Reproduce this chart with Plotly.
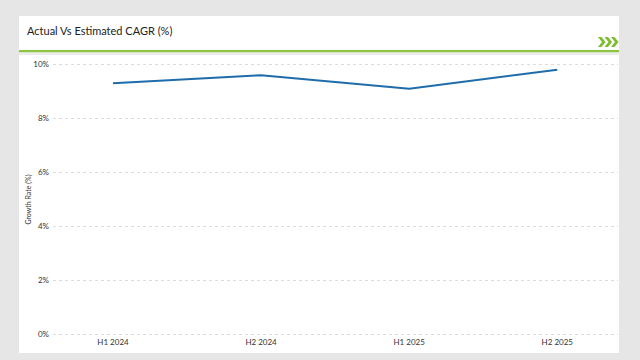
import plotly.graph_objects as go

periods = ["H1 2024", "H2 2024", "H1 2025", "H2 2025"]
growth_rate = [9.3, 9.6, 9.1, 9.8]

W, H = 640, 360
L, R, T, B = 53, 618, 63, 336


def px(x):
    return (x - L) / (R - L)


def py(y):
    return (B - y) / (B - T)


fig = go.Figure()
fig.add_trace(go.Scatter(
    x=periods, y=growth_rate, mode="lines",
    line=dict(color="#1f6cab", width=2),
    hoverinfo="skip", showlegend=False,
))

shapes = [
    # white card
    dict(type="rect", xref="paper", yref="paper", x0=px(19), x1=px(619), y0=py(353), y1=py(16),
         fillcolor="white", line=dict(width=0), layer="below"),
    # green rule under title
    dict(type="rect", xref="paper", yref="paper", x0=px(19), x1=px(619), y0=py(52.5), y1=py(50),
         fillcolor="#8cc43f", line=dict(width=0), layer="below"),
    # light separator strip under green rule
    dict(type="rect", xref="paper", yref="paper", x0=px(19), x1=px(619), y0=py(55), y1=py(52.5),
         fillcolor="#ececec", line=dict(width=0), layer="below"),
]
# chevrons
for i in range(3):
    x0 = 598 + i * 6.5
    pts = [(x0, 37), (x0 + 3.5, 37), (x0 + 7.5, 42), (x0 + 3.5, 47), (x0, 47), (x0 + 4, 42)]
    path = "M " + " L ".join(f"{px(a)},{py(b)}" for a, b in pts) + " Z"
    shapes.append(dict(type="path", xref="paper", yref="paper", path=path,
                       fillcolor="#7dbb2f", line=dict(width=0), layer="above"))

fig.update_layout(
    width=W, height=H,
    margin=dict(l=L, r=W - R, t=T, b=H - B, pad=0),
    paper_bgcolor="#e6e6e6",
    plot_bgcolor="rgba(0,0,0,0)",
    font=dict(family="Lato, Open Sans, sans-serif", color="#333333"),
    shapes=shapes,
    annotations=[
        dict(text="Actual Vs Estimated CAGR (%)", xref="paper", yref="paper",
             x=px(25), y=py(31), xanchor="left", yanchor="middle", showarrow=False,
             font=dict(size=11, color="#222222")),
    ],
    xaxis=dict(
        type="category", range=[-0.405, 3.41], showgrid=False, zeroline=False,
        showline=False, ticks="", tickfont=dict(size=8, color="#333333"),
        fixedrange=True,
    ),
    yaxis=dict(
        range=[-0.05, 10.05], dtick=2, ticksuffix="%", showgrid=True,
        gridcolor="#dcdcdc", griddash="dot", gridwidth=1, zeroline=False,
        showline=False, ticks="", ticklabelstandoff=3,
        tickfont=dict(size=8, color="#333333"),
        title=dict(text="Growth Rate (%)", font=dict(size=7, color="#333333"), standoff=0),
        fixedrange=True,
    ),
)

fig.write_html(
    "out.html",
    config={"displayModeBar": False},
    post_script="document.body.style.margin='0';document.body.style.padding='0';",
)
